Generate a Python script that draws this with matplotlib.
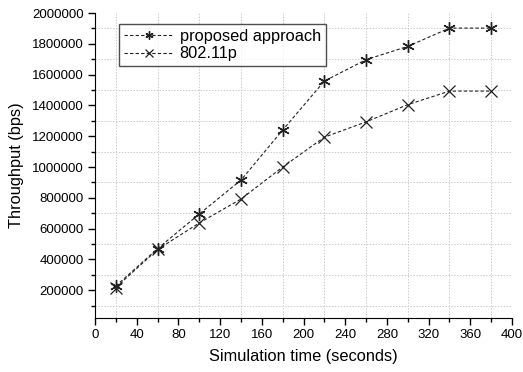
import matplotlib
matplotlib.use("Agg")
import matplotlib.pyplot as plt
from matplotlib.ticker import MultipleLocator, FormatStrFormatter

# data
sim_time = [20, 60, 100, 140, 180, 220, 260, 300, 340, 380]
proposed = [228000, 470000, 695000, 915000, 1240000, 1558000, 1697000, 1783000, 1902000, 1902000]
p80211 = [218000, 465000, 637000, 792000, 1000000, 1194000, 1293000, 1405000, 1493000, 1493000]

plt.rcParams['font.family'] = ['Liberation Sans', 'DejaVu Sans']

fig = plt.figure(figsize=(5.23, 3.72), dpi=100)
ax = fig.add_axes([95 / 523, 1 - 318 / 372, (512 - 95) / 523, (318 - 13) / 372])

ax.plot(sim_time, proposed, color='#222222', lw=0.8, ls=(0, (3, 2)),
        marker=(6, 2, 0), ms=9, mew=1.0, label='proposed approach')
ax.plot(sim_time, p80211, color='#222222', lw=0.8, ls=(0, (3, 2)),
        marker='x', ms=8, mew=0.9, label='802.11p')

ax.set_xlim(0, 400)
ax.set_ylim(20000, 2000000)
ax.xaxis.set_major_locator(MultipleLocator(40))
ax.xaxis.set_minor_locator(MultipleLocator(20))
ax.set_yticks(range(200000, 2000001, 200000))
ax.yaxis.set_minor_locator(MultipleLocator(100000))
ax.yaxis.set_major_formatter(FormatStrFormatter('%d'))

# grid sits on the minor ticks only
for x in range(20, 400, 40):
    ax.axvline(x, color='#cccccc', lw=0.7, ls=(0, (1.5, 1.5)), zorder=0)
for y in range(100000, 2000000, 200000):
    ax.axhline(y, color='#cccccc', lw=0.7, ls=(0, (1.5, 1.5)), zorder=0)

ax.spines['top'].set_visible(False)
ax.spines['right'].set_visible(False)
ax.tick_params(which='major', direction='out', length=5, width=1, labelsize=9.5, pad=3)
ax.tick_params(which='minor', direction='out', length=3, width=1)

ax.set_xlabel('Simulation time (seconds)', fontsize=11.8, labelpad=6)
ax.set_ylabel('Throughput (bps)', fontsize=11.8, labelpad=6)

leg = ax.legend(loc='upper left', bbox_to_anchor=(0.0576, 0.964), borderaxespad=0,
                fontsize=11.8, frameon=True, fancybox=False, edgecolor='#222222',
                handlelength=3.0, borderpad=0.3, labelspacing=0.15, handletextpad=0.4,
                markerscale=0.65)
leg.get_frame().set_linewidth(1.0)

fig.savefig('out.png', dpi=100)
